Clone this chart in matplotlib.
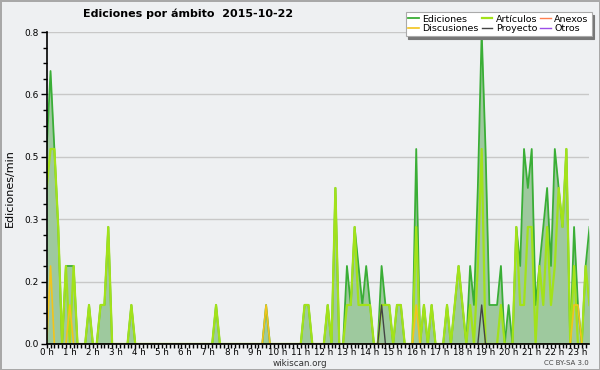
#!/usr/bin/env python3
"""Ediciones por ámbito 2015-10-22 (wikiscan-style area chart)."""

import numpy as np
import matplotlib
matplotlib.use('Agg')
import matplotlib.pyplot as plt
from matplotlib.ticker import FormatStrFormatter

# edits per minute, one value per 10-minute bin starting at 0:00
EDICIONES = [
    0.5, 0.7, 0.5, 0.3, 0, 0.2, 0.2, 0.2, 0, 0, 0, 0.1, 0, 0, 0.1, 0.1,
    0.3, 0, 0, 0, 0, 0, 0.1, 0, 0, 0, 0, 0, 0, 0, 0, 0,
    0, 0, 0, 0, 0, 0, 0, 0, 0, 0, 0, 0, 0.1, 0, 0, 0,
    0, 0, 0, 0, 0, 0, 0, 0, 0, 0.1, 0, 0, 0, 0, 0, 0,
    0, 0, 0, 0.1, 0.1, 0, 0, 0, 0, 0.1, 0, 0.4, 0, 0, 0.2, 0.1,
    0.3, 0.2, 0.1, 0.2, 0.1, 0, 0, 0.2, 0.1, 0.1, 0, 0.1, 0.1, 0, 0, 0,
    0.5, 0, 0.1, 0, 0.1, 0, 0, 0, 0.1, 0, 0.1, 0.2, 0.1, 0, 0.2, 0.1,
    0.4, 0.8, 0.5, 0.1, 0.1, 0.1, 0.2, 0, 0.1, 0, 0.3, 0.2, 0.5, 0.4, 0.5, 0.1,
    0.2, 0.3, 0.4, 0.2, 0.5, 0.4, 0.3, 0.5, 0, 0.3, 0.1, 0, 0.2, 0.3,
]
ARTICULOS = [
    0.4, 0.5, 0.5, 0.3, 0, 0.2, 0, 0.2, 0, 0, 0, 0.1, 0, 0, 0.1, 0.1,
    0.3, 0, 0, 0, 0, 0, 0.1, 0, 0, 0, 0, 0, 0, 0, 0, 0,
    0, 0, 0, 0, 0, 0, 0, 0, 0, 0, 0, 0, 0.1, 0, 0, 0,
    0, 0, 0, 0, 0, 0, 0, 0, 0, 0, 0, 0, 0, 0, 0, 0,
    0, 0, 0, 0.1, 0.1, 0, 0, 0, 0, 0.1, 0, 0.4, 0, 0, 0.1, 0.1,
    0.3, 0.1, 0.1, 0.1, 0.1, 0, 0, 0.1, 0.1, 0.1, 0, 0.1, 0.1, 0, 0, 0,
    0.3, 0, 0.1, 0, 0.1, 0, 0, 0, 0.1, 0, 0.1, 0.2, 0.1, 0, 0.1, 0,
    0.2, 0.5, 0, 0, 0, 0, 0.1, 0, 0, 0, 0.3, 0.1, 0.1, 0.3, 0.3, 0,
    0.2, 0.1, 0.3, 0.1, 0.2, 0.4, 0.3, 0.5, 0, 0.2, 0, 0, 0.2, 0.1,
]
DISCUSIONES = [0.0] * 142
for i, v in [(1, 0.2), (6, 0.1), (57, 0.1), (96, 0.1), (137, 0.1), (138, 0.1)]:
    DISCUSIONES[i] = v
PROYECTO = [0.0] * 142
for i, v in [(87, 0.1), (113, 0.1)]:
    PROYECTO[i] = v
ANEXOS = [0.0] * 142
OTROS = [0.0] * 142

HOUR_LABELS = ["%d h" % h for h in range(24)]
Y_TICKS = [0, 0.16, 0.32, 0.48, 0.64, 0.8]

BG = '#eef0f2'

fig = plt.figure(figsize=(6, 3.7), dpi=100, facecolor=BG,
                 edgecolor='#a8a8a8', linewidth=2)
ax = fig.add_axes([0.0778, 0.0703, 0.9040, 0.8432])
ax.set_facecolor(BG)

x = np.arange(len(EDICIONES))
ax.fill_between(x, 0, EDICIONES, color='#9ec99e', lw=0, zorder=2)
ax.plot(x, ANEXOS, color='#ff7f50', lw=1.0, zorder=3, label='Anexos')
ax.plot(x, OTROS, color='#9b4de8', lw=1.0, zorder=3, label='Otros')
ax.plot(x, EDICIONES, color='#3aae36', lw=1.3, zorder=4, label='Ediciones')
ax.plot(x, ARTICULOS, color='#a2e21a', lw=1.6, zorder=5, label='Artículos')
ax.plot(x, DISCUSIONES, color='#f2c41c', lw=1.2, zorder=6, label='Discusiones')
ax.plot(x, PROYECTO, color='#444444', lw=1.0, zorder=6, label='Proyecto')

ax.set_xlim(0, 140.9)
ax.set_ylim(0, 0.8)

ax.set_xticks(np.arange(24) * 6)
ax.set_xticklabels(HOUR_LABELS)
ax.set_xticks(np.arange(0, 141), minor=True)
ax.set_yticks(Y_TICKS)
ax.yaxis.set_major_formatter(FormatStrFormatter('%.1f'))
ax.set_yticks(np.arange(0, 0.81, 0.04), minor=True)

ax.tick_params(axis='x', which='both', direction='out', length=3, width=1,
               pad=0, labelsize=6.3, colors='black')
ax.tick_params(axis='y', which='major', direction='out', length=4, width=1,
               pad=1.5, labelsize=6.5)
ax.tick_params(axis='y', which='minor', direction='out', length=3, width=1)

ax.yaxis.grid(True, which='major', color='#c8c8c8', lw=1, zorder=1)
ax.set_axisbelow(True)
for side in ('top', 'right'):
    ax.spines[side].set_visible(False)
for side in ('left', 'bottom'):
    ax.spines[side].set_color('black')
    ax.spines[side].set_linewidth(1.2)
    ax.spines[side].set_zorder(7)

ax.set_ylabel('Ediciones/min', fontsize=8, labelpad=7)

fig.text(0.313, 0.962, 'Ediciones por ámbito  2015-10-22', ha='center',
         va='center', fontsize=8, fontweight='bold')
fig.text(0.5, 0.017, 'wikiscan.org', ha='center', va='center',
         fontsize=6.3, color='#333333')
fig.text(0.982, 0.020, 'CC BY-SA 3.0', ha='right', va='center',
         fontsize=5, color='#444444')

h, l = ax.get_legend_handles_labels()
order = ['Ediciones', 'Discusiones', 'Artículos', 'Proyecto', 'Anexos', 'Otros']
handles = [h[l.index(name)] for name in order]
leg = ax.legend(handles, order, ncol=3, loc='upper right',
                bbox_to_anchor=(0.986, 0.968), bbox_transform=fig.transFigure,
                fontsize=6.8, frameon=True, fancybox=False,
                shadow={'color': '#777777', 'alpha': 1},
                handlelength=1.1, handletextpad=0.4, columnspacing=0.3,
                borderpad=0.3, labelspacing=0.05, borderaxespad=0)
leg.get_frame().set_edgecolor('#aaaaaa')
leg.get_frame().set_linewidth(0.8)
leg.set_zorder(10)

fig.savefig('out.png', dpi=100, facecolor=BG)
